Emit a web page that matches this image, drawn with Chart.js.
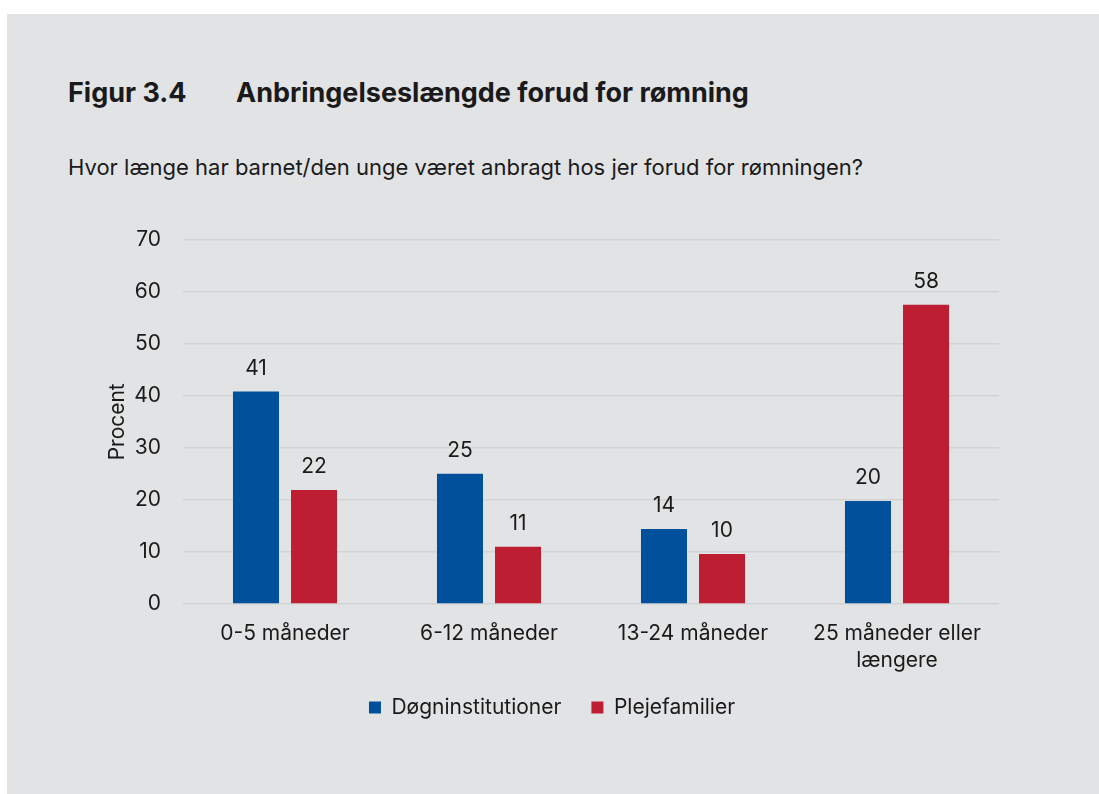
<!DOCTYPE html>
<html>
<head>
<meta charset="utf-8">
<script src="https://cdn.jsdelivr.net/npm/chart.js@4.4.1/dist/chart.umd.min.js"></script>
<style>
  html, body { margin: 0; padding: 0; background: #fff; }
  body { width: 1099px; height: 794px; position: relative; overflow: hidden; font-family: Inter, "Noto Sans", sans-serif; color: #1a1a1a; }
  #panel { position: absolute; left: 7px; top: 14px; width: 1092px; height: 780px; background: #e2e3e5; }
  #title { position: absolute; left: 68px; top: 76px; font-size: 27px; font-weight: 700; white-space: nowrap; }
  #title span { position: absolute; left: 168px; }
  #sub { position: absolute; left: 68px; top: 154px; font-size: 22px; white-space: nowrap; }
  #wrap { position: absolute; left: 90px; top: 205px; width: 950px; height: 535px; }
</style>
</head>
<body>
<div id="panel"></div>
<div id="title">Figur 3.4<span>Anbringelseslængde forud for rømning</span></div>
<div id="sub">Hvor længe har barnet/den unge været anbragt hos jer forud for rømningen?</div>
<div id="wrap"><canvas id="chart"></canvas></div>
<script>
// data
var categories = ['0-5 måneder', '6-12 måneder', '13-24 måneder', ['25 måneder eller', 'længere']];
var seriesNames = ['Døgninstitutioner', 'Plejefamilier'];
var doegn = [40.8, 25.0, 14.4, 19.8];
var pleje = [21.9, 11.0, 9.6, 57.5];
var yTicks = [0, 10, 20, 30, 40, 50, 60, 70];

var textColor = '#1a1a1a';
var fontSize = 21;

// draw the rounded value above each bar
var valueLabels = {
    id: 'valueLabels',
    afterDatasetsDraw(chart) {
        var ctx = chart.ctx;
        ctx.save();
        ctx.font = fontSize + 'px Inter, "Noto Sans", sans-serif';
        ctx.fillStyle = textColor;
        ctx.textAlign = 'center';
        ctx.textBaseline = 'middle';
        chart.data.datasets.forEach((ds, i) => {
            chart.getDatasetMeta(i).data.forEach((bar, j) => {
                ctx.fillText(Math.round(ds.data[j]), bar.x, bar.y - 23);
            });
        });
        ctx.restore();
    }
};

var myChart = new Chart(document.getElementById('chart'), {
    type: 'bar',
    data: {
        labels: categories,
        datasets: [
            { label: seriesNames[0], data: doegn, backgroundColor: '#00509b' },
            { label: seriesNames[1], data: pleje, backgroundColor: '#be1e31' }
        ]
    },
    options: {
        responsive: true,
        maintainAspectRatio: false,
        animation: false,
        categoryPercentage: 0.569,
        barPercentage: 0.793,
        layout: { padding: { top: 21, right: 41, bottom: 12, left: 15 } },
        plugins: {
            tooltip: { enabled: false },
            legend: {
                position: 'bottom',
                labels: {
                    boxWidth: 12,
                    boxHeight: 12,
                    padding: 30,
                    color: textColor,
                    font: { family: 'Inter', size: fontSize }
                }
            }
        },
        scales: {
            x: {
                grid: { display: false },
                border: { display: false },
                afterFit: (scale) => {
                    scale.height = 63;
                    // second line of the last label hangs below the box, don't clip it
                    scale._computeLabelArea = () => undefined;
                },
                ticks: {
                    color: textColor,
                    padding: 8,
                    maxRotation: 0,
                    font: { family: 'Inter', size: fontSize, lineHeight: 1.3 }
                }
            },
            y: {
                min: 0,
                max: 70,
                afterBuildTicks: (scale) => { scale.ticks = yTicks.map(v => ({ value: v })); },
                afterFit: (scale) => { scale.width = 78; },
                grid: { color: '#d2d3d5', lineWidth: 1.5, drawTicks: false },
                border: { display: false },
                ticks: {
                    color: textColor,
                    padding: 22,
                    font: { family: 'Inter', size: fontSize }
                },
                title: {
                    display: true,
                    text: 'Procent',
                    color: textColor,
                    padding: { top: 0, bottom: 0 },
                    font: { family: 'Inter', size: fontSize }
                }
            }
        }
    },
    plugins: [valueLabels]
});
</script>
</body>
</html>
